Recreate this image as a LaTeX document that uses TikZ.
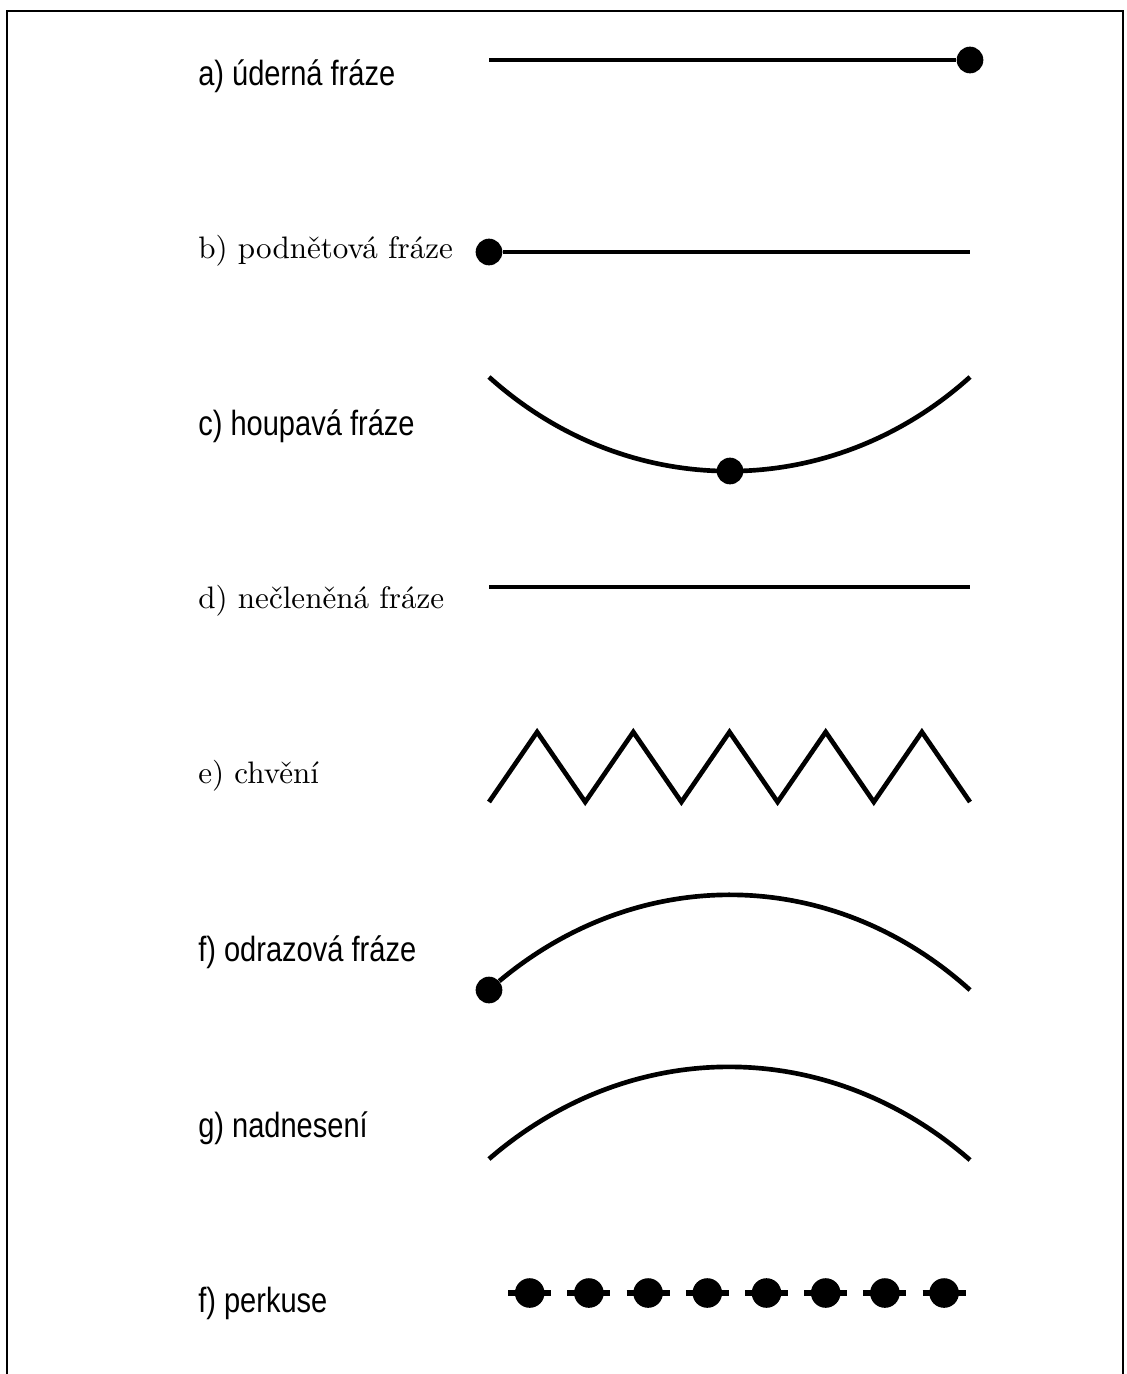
\documentclass[tikz,border=0pt]{standalone}
\usepackage{fontspec}
\usepackage{tikz}
\usetikzlibrary{positioning}
\newfontfamily\labsans[FakeStretch=0.83]{Liberation Sans}
\newfontfamily\labserif{lmroman10-regular.otf}

\begin{document}
\begin{tikzpicture}[x=0.75pt, y=0.75pt,
    phrase/.style={line width=3.5pt},
    dot/.style={circle, fill, inner sep=0pt, minimum size=20pt},
    sanslab/.style={anchor=base west, inner sep=0pt, font=\labsans\fontsize{26.25}{30}\selectfont},
    seriflab/.style={anchor=base west, inner sep=0pt, font=\labserif\fontsize{23.3}{27}\selectfont}]
  \useasboundingbox (0,0) rectangle (1127,-1374);
  % frame (open at the bottom)
  \draw[line width=1.5pt] (7,-1374) -- (7,-11) -- (1123,-11) -- (1123,-1374);

  % a) dot at the end
  \node[sanslab] (la) at (198,-85) {a) úderná fráze};
  \coordinate (a-w) at (489,-60);
  \node[dot] (a-dot) at (970,-60) {};
  \draw[phrase] (a-w) -- (a-dot);

  % b) dot at the start
  \node[seriflab] (lb) at (198,-258) {b) podnětová fráze};
  \node[dot] (b-dot) at (489,-252) {};
  \coordinate (b-e) at (970,-252);
  \draw[phrase] (b-dot) -- (b-e);

  % c) swing, dot in the middle
  \node[sanslab] (lc) at (198,-435) {c) houpavá fráze};
  \coordinate (c-w) at (489,-377);
  \coordinate (c-e) at (970,-377);
  \draw[phrase] (c-w) to[bend right=42] (c-e);
  \node[dot] (c-dot) at (730,-471) {};

  % d) flat
  \node[seriflab] (ld) at (198,-608) {d) nečleněná fráze};
  \coordinate (d-w) at (489,-587);
  \coordinate (d-e) at (970,-587);
  \draw[phrase] (d-w) -- (d-e);

  % e) zigzag
  \node[seriflab] (le) at (198,-783) {e) chvění};
  \foreach \i in {0,...,10}
    \coordinate (e\i) at ({489+48.1*\i},{-802+70*mod(\i,2)});
  \draw[phrase] (e0) \foreach \i in {1,...,10} {-- (e\i)};

  % f) arc up, dot at the start
  \node[sanslab] (lf) at (198,-961) {f) odrazová fráze};
  \node[dot] (f-dot) at (489,-990) {};
  \coordinate (f-e) at (970,-990);
  \draw[phrase] (f-dot) to[bend left=41] (f-e);

  % g) arc up
  \node[sanslab] (lg) at (198,-1137) {g) nadnesení};
  \coordinate (g-w) at (489,-1159);
  \coordinate (g-e) at (970,-1160);
  \draw[phrase] (g-w) to[bend left=41] (g-e);

  % perkuse: dashes with dots
  \node[sanslab] (lh) at (198,-1312) {f) perkuse};
  \coordinate (p-w) at (508.2,-1293);
  \coordinate (p-e) at (965.6,-1293);
  \draw[line width=4pt, dash pattern=on 32.25pt off 12.15pt] (p-w) -- (p-e);
  \foreach \i in {1,...,8}
    \node[dot, minimum size=22.2pt] (p\i) at ({529.7+59.2*(\i-1)},-1293) {};
\end{tikzpicture}
\end{document}
